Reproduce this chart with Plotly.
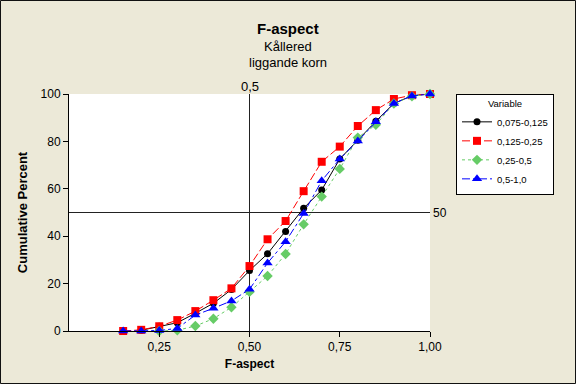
import plotly.graph_objects as go

x_vals = [0.15, 0.20, 0.25, 0.30, 0.35, 0.40, 0.45, 0.50, 0.55, 0.60,
          0.65, 0.70, 0.75, 0.80, 0.85, 0.90, 0.95, 1.00]

names = ["0,075-0,125", "0,125-0,25", "0,25-0,5", "0,5-1,0"]

black_y = [None, 0.3, 2.0, 3.5, 7.5, 11.7, 17.5, 25.5, 32.6, 42.0,
           51.8, 59.5, 72.6, 80.5, 88.5, 96.0, 99.3, 100.0]
red_y = [0.0, 0.5, 2.0, 4.6, 8.4, 13.0, 18.0, 27.4, 38.7, 46.4,
         59.0, 71.4, 77.8, 86.5, 93.2, 97.9, 99.5, 100.0]
green_y = [None, None, 0.0, 0.3, 2.1, 5.2, 10.0, 16.5, 23.2, 32.5,
           45.0, 56.7, 68.4, 81.6, 87.0, 96.0, 99.0, 100.0]
blue_y = [0.0, 0.0, 0.2, 1.1, 6.7, 9.6, 12.7, 17.6, 28.7, 37.7,
          49.6, 63.4, 72.6, 80.2, 88.3, 96.0, 99.2, 100.0]

x_tickvals = [0.25, 0.50, 0.75, 1.00]
x_ticktext = ["0,25", "0,50", "0,75", "1,00"]
y_tickvals = [0, 20, 40, 60, 80, 100]

ref_x = 0.5
ref_y = 50

FONT = "Liberation Sans"
L, R, T, B = 69, 146, 94, 53
W, H = 576, 384
PW, PH = W - L - R, H - T - B


def px_to_paper_x(px):
    return (px - L) / PW


def px_to_paper_y(py):
    return (H - B - py) / PH


series = [
    (black_y, "black", "solid", "circle", 7),
    (red_y, "#FF0000", "8px,3px", "square", 8),
    (green_y, "#66CC66", "3px,3px", "diamond", 8),
    (blue_y, "#0000FF", "8px,3px,3px,3px", "triangle-up", 9),
]

fig = go.Figure()
for (ys, col, dash, sym, sz), nm in zip(series, names):
    fig.add_trace(go.Scatter(
        x=x_vals, y=ys, name=nm, mode="lines+markers",
        line=dict(color=col, width=1, dash=dash),
        marker=dict(color=col, symbol=sym, size=sz, line=dict(width=0)),
        cliponaxis=False, connectgaps=False,
    ))

shapes = [
    dict(type="line", xref="x", yref="paper", x0=ref_x, x1=ref_x, y0=0, y1=1,
         line=dict(color="#222222", width=1), layer="below"),
    dict(type="line", xref="paper", yref="y", x0=0, x1=1, y0=ref_y, y1=ref_y,
         line=dict(color="#222222", width=1), layer="below"),
    dict(type="rect", xref="paper", yref="paper",
         x0=px_to_paper_x(0.5), x1=px_to_paper_x(575.5),
         y0=px_to_paper_y(383.5), y1=px_to_paper_y(0.5),
         line=dict(color="#111111", width=1)),
]

annotations = [
    dict(text="<b>F-aspect</b>", xref="paper", yref="paper",
         x=px_to_paper_x(288), y=px_to_paper_y(28), showarrow=False,
         font=dict(family=FONT, size=15, color="black"), xanchor="center", yanchor="middle"),
    dict(text="Kållered", xref="paper", yref="paper",
         x=px_to_paper_x(288), y=px_to_paper_y(46), showarrow=False,
         font=dict(family=FONT, size=13, color="black"), xanchor="center", yanchor="middle"),
    dict(text="liggande korn", xref="paper", yref="paper",
         x=px_to_paper_x(288), y=px_to_paper_y(62), showarrow=False,
         font=dict(family=FONT, size=13, color="black"), xanchor="center", yanchor="middle"),
    dict(text="0,5", xref="x", yref="paper",
         x=ref_x, y=px_to_paper_y(86), showarrow=False,
         font=dict(family=FONT, size=13, color="black"), xanchor="center", yanchor="middle"),
    dict(text="50", xref="paper", yref="y",
         x=px_to_paper_x(440), y=ref_y, showarrow=False,
         font=dict(family=FONT, size=12, color="black"), xanchor="center", yanchor="middle"),
]

fig.update_layout(
    width=W, height=H,
    margin=dict(l=L, r=R, t=T, b=B, pad=0),
    paper_bgcolor="#ECE9D8",
    plot_bgcolor="white",
    font=dict(family=FONT, size=12, color="black"),
    shapes=shapes,
    annotations=annotations,
    showlegend=True,
    legend=dict(
        x=px_to_paper_x(456), y=1.0, xanchor="left", yanchor="top",
        bgcolor="white", bordercolor="black", borderwidth=1,
        font=dict(family=FONT, size=9.5, color="black"),
        title=dict(text="Variable", side="top center", font=dict(family=FONT, size=9.5)),
        tracegroupgap=0, itemwidth=30,
    ),
    xaxis=dict(
        range=[0, 1], tickvals=x_tickvals, ticktext=x_ticktext,
        showgrid=False, zeroline=False, showline=True, linecolor="black", linewidth=1,
        ticks="outside", ticklen=5, tickcolor="black",
        tickfont=dict(family=FONT, size=12),
        title=dict(text="<b>F-aspect</b>", font=dict(family=FONT, size=12), standoff=6),
    ),
    yaxis=dict(
        range=[0, 100], tickvals=y_tickvals,
        showgrid=False, zeroline=False, showline=True, linecolor="black", linewidth=1,
        ticks="outside", ticklen=5, tickcolor="black",
        tickfont=dict(family=FONT, size=12),
        title=dict(text="<b>Cumulative Percent</b>", font=dict(family=FONT, size=13), standoff=10),
    ),
)

fig.write_html(
    "out.html",
    config={"displayModeBar": False},
    post_script="document.body.style.margin='0px';document.body.style.overflow='hidden';",
)
